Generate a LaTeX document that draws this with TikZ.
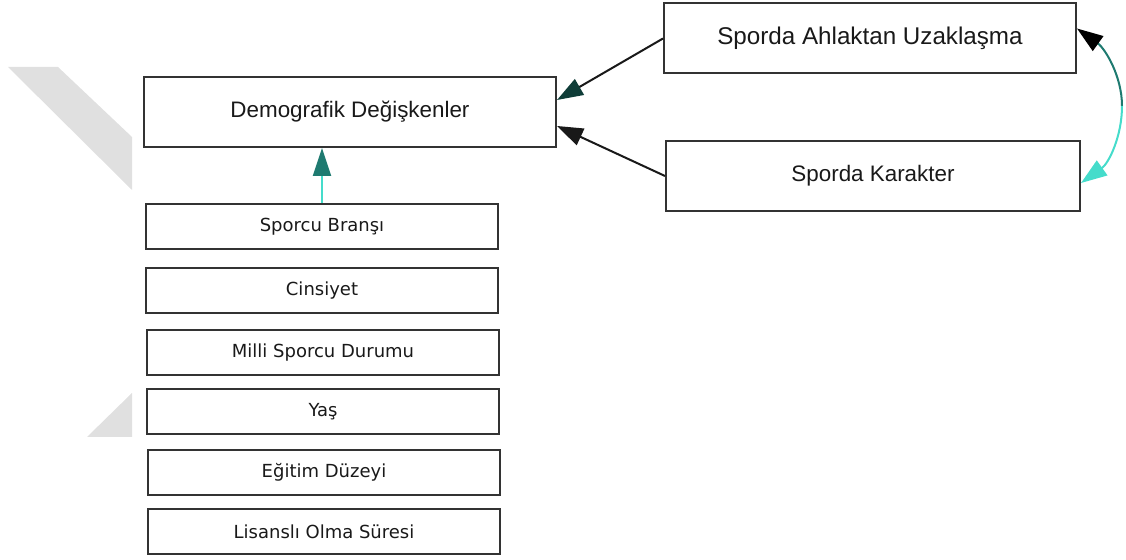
\documentclass[tikz,border=0pt]{standalone}
\usepackage{fontspec}
\usepackage{tikz}
\usetikzlibrary{arrows.meta}
\setmainfont{Liberation Sans}
\newfontfamily\smallfont{DejaVu Sans}
\definecolor{boxline}{HTML}{333333}
\definecolor{darkhead}{HTML}{0F3D38}
\definecolor{midteal}{HTML}{1E7A70}
\definecolor{turq}{HTML}{45DCCB}
\definecolor{wmgray}{HTML}{E0E0E0}

\begin{document}
\begin{tikzpicture}[x=0.5pt,y=-0.5pt,
    bigbox/.style={draw=boxline,line width=1pt,fill=white,minimum width=206pt,minimum height=35pt,
      font=\fontsize{11.2}{13}\selectfont,text=black!90},
    smallbox/.style={draw=boxline,line width=1pt,fill=white,minimum width=176pt,minimum height=22.5pt,
      font=\smallfont\fontsize{9}{11}\selectfont,text=black!90},
    link/.style={line width=1pt,-{Triangle[length=13pt,width=9pt]}}]
    \useasboundingbox (0,0) rectangle (1126,560);

    \fill[wmgray] (8,67) -- (58,67) -- (132,137) -- (132,190) -- cycle;
    \fill[wmgray] (87,437) -- (132,437) -- (132,393) -- cycle;

    \node[bigbox] (demo) at (350,112) {Demografik Değişkenler};
    \node[bigbox,font=\fontsize{12.1}{14}\selectfont] (ahlak) at (870,38.5) {Sporda Ahlaktan Uzaklaşma};
    \node[bigbox,minimum width=207pt] (karakter) at (873,176) {Sporda Karakter};

    \node[smallbox] (brans) at (322,226.5) {Sporcu Branşı};
    \node[smallbox] (cinsiyet) at (322,290.5) {Cinsiyet};
    \node[smallbox] (milli) at (323,353) {Milli Sporcu Durumu};
    \node[smallbox] (yas) at (323,411.5) {Yaş};
    \node[smallbox] (egitim) at (324,472.5) {Eğitim Düzeyi};
    \node[smallbox] (lisans) at (324,532) {Lisanslı Olma Süresi};

    \coordinate (bend) at (1122,106);

    \draw[link,black!90,-{Triangle[length=13pt,width=9pt,color=darkhead]}] (ahlak.west) -- ([yshift=6pt]demo.east);
    \draw[link,black!90] (karakter.west) -- ([yshift=-7pt]demo.east);
    \draw[link,turq,-{Triangle[length=14pt,width=9pt,color=midteal]}] (brans.north) -- (brans.north |- demo.south);
    \draw[link,midteal,-{Triangle[length=13pt,width=9pt,color=black]}] (bend) .. controls +(0,-30) and +(28,20) .. ([yshift=5pt]ahlak.east);
    \draw[link,turq] (bend) .. controls +(0,30) and +(28,-20) .. ([yshift=-3.5pt]karakter.east);

\end{tikzpicture}
\end{document}
